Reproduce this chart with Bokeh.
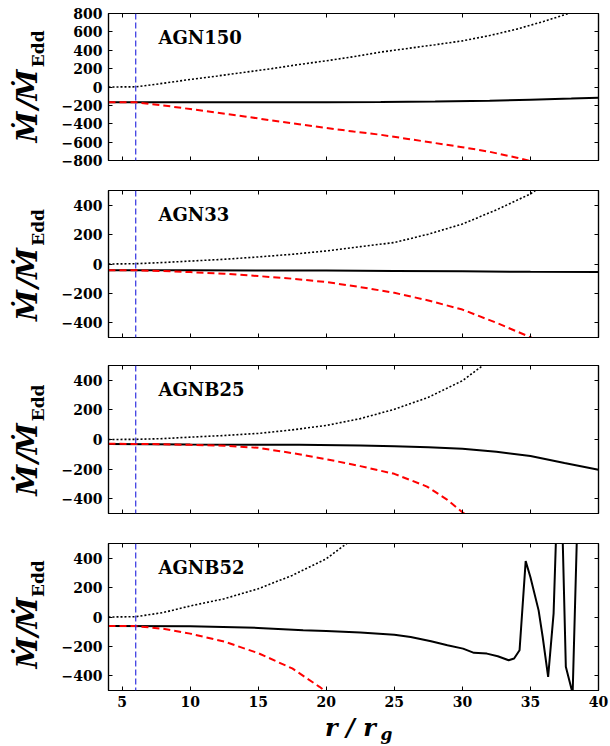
import math
from bokeh.plotting import figure
from bokeh.layouts import column, row
from bokeh.models import Span, Label, LinearAxis, FixedTicker, Range1d
from bokeh.core.properties import value
from bokeh.embed import file_html
from bokeh.resources import INLINE

# ---------------- data ----------------
panel_names = ["AGN150", "AGN33", "AGNB25", "AGNB52"]
x_ticks = [5, 10, 15, 20, 25, 30, 35, 40]
y_ticks_150 = [-800, -600, -400, -200, 0, 200, 400, 600, 800]
y_ticks_small = [-400, -200, 0, 200, 400]
isco_r = 6

# AGN150
r150_dot = [4, 6, 8, 10, 12, 14, 16, 18, 20, 22, 24, 26, 28, 30, 32, 34, 36, 38, 40]
m150_dot = [0, 2, 40, 82, 120, 160, 200, 245, 285, 330, 380, 420, 460, 502, 560, 630, 715, 810, 910]
r150_sol = [4, 8, 12, 16, 20, 24, 28, 32, 35, 38, 40]
m150_sol = [-165, -165, -166, -166, -165, -163, -158, -150, -138, -126, -116]
r150_dash = [4, 6, 8, 10, 12, 14, 16, 18, 20, 22, 24, 26, 28, 30, 32, 34, 36, 38, 40]
m150_dash = [-165, -166, -200, -240, -280, -320, -365, -405, -445, -485, -520, -565, -610, -655, -705, -770, -840, -920, -1000]

# AGN33
r33_dot = [4, 6, 8, 10, 12.5, 15, 17.5, 20, 22.5, 25, 27.5, 30, 32.5, 35, 36]
m33_dot = [0, 2, 10, 20, 32, 48, 66, 89, 118, 146, 203, 272, 368, 477, 540]
r33_sol = [4, 10, 15, 20, 25, 30, 35, 40]
m33_sol = [-42, -43, -44, -45, -47, -50, -53, -55]
r33_dash = [4, 6, 8, 10, 12.5, 15, 17.5, 20, 22.5, 25, 27.5, 30, 32.5, 35, 36]
m33_dash = [-42, -43, -48, -55, -66, -82, -100, -123, -157, -196, -248, -310, -400, -498, -545]

# AGNB25
rB25_dot = [4, 6, 8, 10, 12.5, 15, 17.5, 20, 22.5, 25, 27.5, 30, 31.5, 32]
mB25_dot = [0, 1, 6, 16, 27, 41, 65, 95, 141, 204, 285, 397, 500, 545]
rB25_sol = [4, 10, 15, 18, 22.5, 25, 27.5, 30, 32.5, 35, 37.5, 40]
mB25_sol = [-30, -33, -35, -36, -40, -45, -52, -63, -82, -112, -159, -204]
rB25_dash = [4, 6, 8, 10, 12.5, 15, 17.5, 20, 22.5, 25, 27.4, 28.9, 30, 31]
mB25_dash = [-29, -30, -32, -36, -42, -56, -92, -133, -180, -232, -318, -408, -492, -560]

# AGNB52
rB52_dot = [4, 6, 8, 10, 12.5, 15, 17.5, 20, 21.5, 22]
mB52_dot = [0, 2, 30, 75, 124, 192, 283, 396, 500, 540]
rB52_sol = [4, 10, 15, 18.3, 20, 22.5, 25, 26.2, 27.7, 28.9, 30.05, 30.85, 31.8, 32.6, 33.4,
            33.8, 34.2, 34.65, 35.0, 35.6, 35.9, 36.3, 36.7, 36.9, 37.35, 37.6, 38.1, 38.4, 38.6]
mB52_sol = [-61, -63, -74, -90, -95, -106, -120, -136, -165, -192, -215, -244, -249, -267, -294,
            -282, -226, 380, 271, 45, -136, -407, 23, 600, 600, -339, -520, 500, 800]
rB52_dash = [4, 6, 8, 10, 12.5, 15, 17.5, 19.5, 20]
mB52_dash = [-61, -62, -80, -113, -167, -246, -350, -475, -510]

# axis-label pieces: M-dot / M-dot_Edd  and  r / r_g
y_label_parts = ["\u1E40", "/", "\u1E40"]
y_label_sub = "Edd"
x_label_main = "r / r"
x_label_sub = "g"

panels = [
    dict(name=panel_names[0], yr=(-800, 800), yt=y_ticks_150,
         dot=(r150_dot, m150_dot), sol=(r150_sol, m150_sol), dash=(r150_dash, m150_dash)),
    dict(name=panel_names[1], yr=(-500, 500), yt=y_ticks_small,
         dot=(r33_dot, m33_dot), sol=(r33_sol, m33_sol), dash=(r33_dash, m33_dash)),
    dict(name=panel_names[2], yr=(-500, 500), yt=y_ticks_small,
         dot=(rB25_dot, mB25_dot), sol=(rB25_sol, mB25_sol), dash=(rB25_dash, mB25_dash)),
    dict(name=panel_names[3], yr=(-500, 500), yt=y_ticks_small,
         dot=(rB52_dot, mB52_dot), sol=(rB52_sol, mB52_sol), dash=(rB52_dash, mB52_dash)),
]

# ---------------- layout / style ----------------
TOTAL_W = 610
LAB_W = 50
W = TOTAL_W - LAB_W
BL, BR = 108 - LAB_W, 12
heights = [175, 175, 178, 184]
borders = [(13, 15), (15, 13), (15, 15), (15, 22)]
XLAB_H = 34
FONT = "DejaVu Serif"


def tick_label(t):
    return ("\u2212" + str(abs(t))) if t < 0 else str(t)


def style_axis(ax, ticks, show, standoff=6):
    ax.ticker = FixedTicker(ticks=ticks)
    ax.major_tick_in = 4
    ax.major_tick_out = 0
    ax.minor_tick_line_color = None
    ax.axis_line_color = "black"
    ax.axis_line_width = 1.2
    ax.major_tick_line_color = "black"
    ax.major_tick_line_width = 1
    ax.major_label_text_font = FONT
    ax.major_label_text_font_style = "bold"
    ax.major_label_text_color = "black"
    if show:
        ax.major_label_text_font_size = "14px"
        ax.major_label_standoff = standoff
        ax.major_label_overrides = {t: tick_label(t) for t in ticks}
    else:
        ax.major_label_text_font_size = "0px"
        ax.major_label_standoff = 0


def blank_fig(w, h):
    f = figure(width=w, height=h, x_range=Range1d(0, w), y_range=Range1d(0, h),
               x_axis_location=None, y_axis_location=None, toolbar_location=None,
               output_backend="svg", min_border=0, title=None)
    f.grid.visible = False
    f.outline_line_color = None
    f.background_fill_color = "white"
    f.border_fill_color = "white"
    return f


# offsets (px, above the panel's frame bottom) of the centres of the label pieces
y_piece_offsets = [25, 52, 75]
sub_offset = 118

rows = []
for i, pd_ in enumerate(panels):
    bt, bb = borders[i]
    h = heights[i]
    frame_h = h - bt - bb
    last = i == len(panels) - 1
    p = figure(width=W, height=h, x_range=Range1d(4, 40), y_range=Range1d(*pd_["yr"]),
               output_backend="svg", toolbar_location=None,
               min_border_left=BL, min_border_right=BR,
               min_border_top=bt, min_border_bottom=bb)
    p.grid.visible = False
    p.outline_line_color = "black"
    p.outline_line_width = 1.2
    p.background_fill_color = "white"
    p.border_fill_color = "white"

    style_axis(p.xaxis[0], x_ticks, last, standoff=5)
    style_axis(p.yaxis[0], pd_["yt"], True, standoff=6)
    top_ax = LinearAxis()
    style_axis(top_ax, x_ticks, False)
    p.add_layout(top_ax, "above")
    right_ax = LinearAxis()
    style_axis(right_ax, pd_["yt"], False)
    p.add_layout(right_ax, "right")

    p.line(pd_["dot"][0], pd_["dot"][1], line_color="black", line_width=1.6, line_dash="2 2")
    p.line(pd_["sol"][0], pd_["sol"][1], line_color="black", line_width=2)
    p.line(pd_["dash"][0], pd_["dash"][1], line_color="red", line_width=2, line_dash="7 4")

    p.add_layout(Span(location=isco_r, dimension="height", line_color="#3030e0",
                      line_width=1.2, line_dash="6 3"))

    p.add_layout(Label(x=50, y=frame_h - 13, x_units="screen", y_units="screen",
                       text=pd_["name"], text_font=FONT, text_font_style="bold",
                       text_font_size="18px", text_color="black", text_baseline="top",
                       text_align="left"))

    # y-axis label column (rotated M-dot / M-dot_Edd)
    lf = blank_fig(LAB_W, h)
    lf.text(x=[27] * 3, y=[bb + o for o in y_piece_offsets], text=y_label_parts,
            angle=math.pi / 2, text_font=value(FONT), text_font_style="bold italic",
            text_font_size="28px", text_color="black",
            text_align="center", text_baseline="middle")
    lf.text(x=[37], y=[bb + sub_offset], text=[y_label_sub], angle=math.pi / 2,
            text_font=value(FONT), text_font_style="bold", text_font_size="17px",
            text_color="black", text_align="center", text_baseline="middle")
    rows.append(row(lf, p))

# x-axis label strip
xf = blank_fig(TOTAL_W, XLAB_H)
xf.text(x=[350], y=[19], text=[x_label_main], text_font=value(FONT),
        text_font_style="bold italic", text_font_size="24px", text_color="black",
        text_align="center", text_baseline="middle")
xf.text(x=[386], y=[13], text=[x_label_sub], text_font=value(FONT),
        text_font_style="bold italic", text_font_size="17px", text_color="black",
        text_align="center", text_baseline="middle")
rows.append(xf)

layout = column(*rows)
open("out.html", "w").write(file_html(layout, INLINE))
